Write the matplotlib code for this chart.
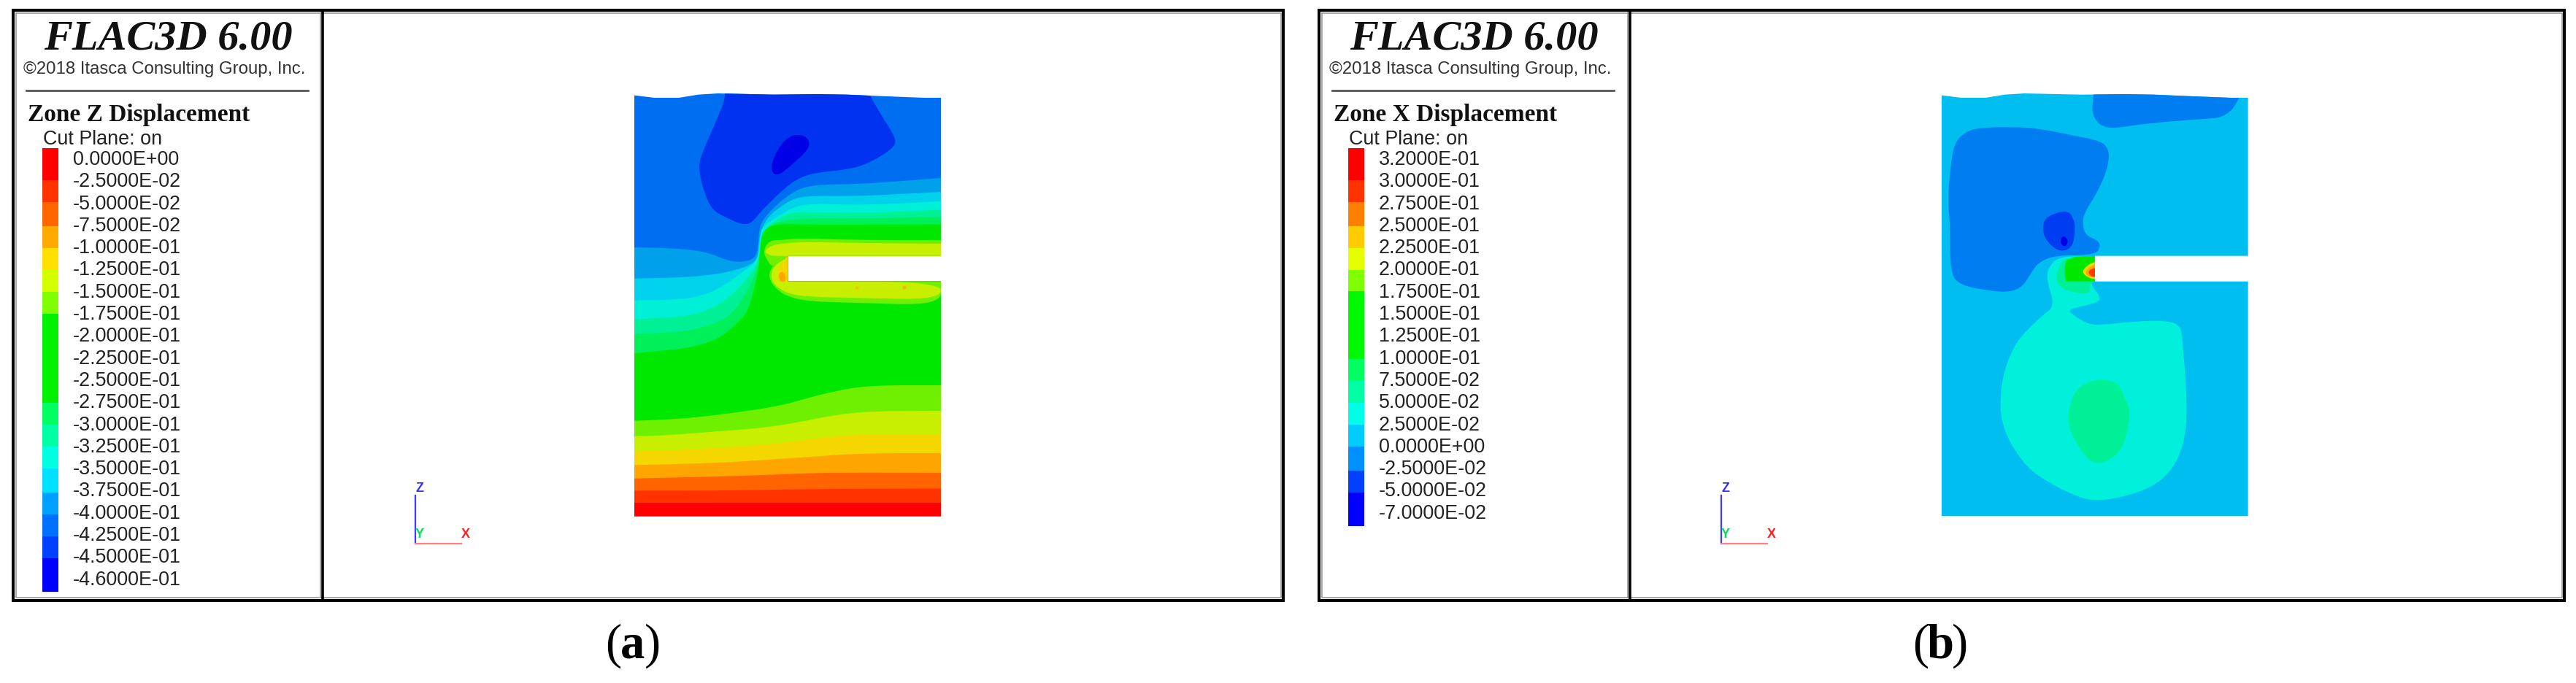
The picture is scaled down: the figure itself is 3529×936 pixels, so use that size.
import numpy as np
import matplotlib
matplotlib.use("Agg")
import matplotlib.pyplot as plt
from matplotlib.path import Path
from matplotlib.patches import PathPatch

# legend labels
labels_a = ["0.0000E+00", "-2.5000E-02", "-5.0000E-02", "-7.5000E-02", "-1.0000E-01", "-1.2500E-01",
            "-1.5000E-01", "-1.7500E-01", "-2.0000E-01", "-2.2500E-01", "-2.5000E-01", "-2.7500E-01",
            "-3.0000E-01", "-3.2500E-01", "-3.5000E-01", "-3.7500E-01", "-4.0000E-01", "-4.2500E-01",
            "-4.5000E-01", "-4.6000E-01"]
labels_b = ["3.2000E-01", "3.0000E-01", "2.7500E-01", "2.5000E-01", "2.2500E-01", "2.0000E-01",
            "1.7500E-01", "1.5000E-01", "1.2500E-01", "1.0000E-01", "7.5000E-02", "5.0000E-02",
            "2.5000E-02", "0.0000E+00", "-2.5000E-02", "-5.0000E-02", "-7.0000E-02"]

# colour bar bands, bottom edge of each band then colour
bar_edges_a = [248, 278, 311, 341, 371, 401, 431, 553, 583, 613, 643, 676, 706, 736, 766, 812]
bar_cols_a = ["#ff0000", "#ff3300", "#ff6600", "#ffaa00", "#ffe000", "#d4ff00", "#7fff00", "#00f000",
              "#00ff60", "#00ffa5", "#00ffe0", "#00e0ff", "#00a0ff", "#0070ff", "#0040ff", "#0000ff"]
bar_edges_b = [248, 278, 311, 341, 371, 400, 493, 523, 553, 583, 613, 646, 676, 722]
bar_cols_b = ["#ff0000", "#ff3300", "#ff8000", "#ffcc00", "#e6ff00", "#80ff00", "#00f800", "#00ff60",
              "#00ffa5", "#00ffe6", "#00ccff", "#0090ff", "#0040ff", "#0000ff"]

# model outline (3x pixels from crop origin)
top_edge = [(170, 75), (270, 75), (350, 62), (430, 57), (660, 62), (840, 60), (960, 62), (1100, 68), (1280, 75)]
BOTTOM = 1795

# zone z contours, painted back to front
z_blob1 = [(450, 30), (1040, 30), (1060, 75), (1110, 160), (1165, 245), (1150, 285), (1040, 350), (950, 372), (850, 380),
           (770, 400), (700, 450), (640, 510), (600, 550), (570, 590), (530, 597), (470, 570), (410, 540), (375, 470),
           (348, 360), (370, 290), (420, 180), (465, 70)]
z_blob2 = [(755, 225), (795, 235), (810, 265), (790, 300), (740, 345), (690, 388), (662, 392), (648, 365), (660, 320),
           (690, 265), (725, 235)]
z_l1 = [(87, 690), (200, 692), (330, 700), (400, 715), (470, 745), (530, 752), (585, 735), (597, 680), (600, 600), (640, 545),
        (700, 490), (770, 445), (850, 432), (1000, 430), (1150, 420), (1347, 405)]
z_l2 = [(87, 818), (250, 815), (400, 805), (500, 785), (570, 760), (596, 735), (600, 640), (630, 570), (690, 520), (750, 485),
        (830, 478), (950, 480), (1100, 475), (1347, 462)]
z_l3 = [(87, 908), (280, 905), (380, 885), (460, 845), (540, 785), (598, 740), (604, 630), (620, 600), (680, 560), (750, 520),
        (830, 510), (950, 515), (1150, 512), (1347, 500)]
z_l4 = [(87, 985), (300, 975), (400, 945), (480, 895), (550, 820), (600, 750), (606, 630), (670, 575), (740, 545), (820, 545),
        (950, 548), (1150, 545), (1347, 535)]
z_l5 = [(87, 1045), (250, 1040), (350, 1025), (450, 990), (490, 960), (540, 890), (590, 790), (604, 700), (608, 640), (640, 600),
        (700, 580), (800, 570), (1000, 572), (1347, 565)]
z_l6 = [(87, 1125), (200, 1115), (300, 1105), (400, 1080), (470, 1040), (520, 990), (550, 960), (575, 880), (598, 780), (604, 700),
        (610, 640), (630, 610), (680, 592), (800, 597), (1000, 597), (1347, 595)]
z_upper1 = [(1347, 660), (1000, 660), (770, 652), (690, 660), (640, 662), (615, 708), (635, 745), (650, 770), (718, 770), (1347, 770)]
z_upper2 = [(1347, 675), (1000, 672), (780, 667), (690, 675), (650, 682), (618, 708), (640, 720), (660, 727), (1347, 727)]
z_lower1 = [(718, 725), (670, 750), (640, 790), (645, 830), (680, 870), (720, 893), (800, 912), (1000, 918), (1347, 928), (1347, 830)]
z_lower2 = [(718, 735), (690, 745), (660, 770), (648, 800), (655, 835), (690, 865), (730, 882), (800, 893), (1000, 898), (1347, 905), (1347, 830), (718, 830)]
z_tip1 = [(718, 725), (700, 745), (680, 775), (675, 810), (680, 830), (718, 830)]
z_tip2 = [(682, 795), (700, 788), (710, 810), (708, 832), (688, 832), (680, 815)]
z_spot1 = [(995, 848), (1010, 848), (1010, 863), (995, 863)]
z_spot2 = [(1189, 848), (1205, 848), (1205, 863), (1189, 863)]
z_b1 = [(87, 1403), (240, 1397), (350, 1388), (500, 1370), (680, 1343), (780, 1315), (900, 1283), (1050, 1257), (1347, 1257)]
z_b2 = [(87, 1467), (220, 1463), (420, 1447), (600, 1434), (760, 1410), (900, 1380), (1060, 1363), (1347, 1362)]
z_b3 = [(87, 1528), (230, 1525), (480, 1512), (700, 1495), (880, 1468), (1060, 1458), (1347, 1458)]
z_b4 = [(87, 1585), (420, 1577), (650, 1562), (800, 1552), (1020, 1536), (1347, 1536)]
z_b5 = [(87, 1640), (400, 1633), (650, 1625), (800, 1618), (1000, 1616), (1347, 1617)]
z_b6 = [(87, 1690), (500, 1690), (800, 1683), (1347, 1682)]
z_b7 = [(87, 1740), (430, 1740), (1347, 1740)]

# zone x contours
x_top = [(720, 30), (1050, 30), (1335, 40), (1310, 80), (1285, 125), (1240, 155), (1200, 160), (1050, 170), (900, 185), (790, 202),
         (740, 188), (712, 150), (708, 100)]
x_big = [(250, 197), (400, 195), (500, 203), (620, 228), (745, 252), (775, 285), (778, 330), (760, 400), (720, 480), (678, 545),
         (668, 590), (680, 640), (735, 662), (742, 692), (715, 722), (560, 722), (490, 750), (460, 790), (425, 850), (370, 875),
         (280, 868), (165, 845), (125, 795), (125, 600), (115, 500), (125, 370), (140, 265), (185, 215)]
x_dark = [(605, 535), (632, 570), (640, 610), (630, 685), (590, 708), (548, 692), (512, 650), (504, 600), (522, 562)]
x_core = [(590, 640), (610, 660), (602, 686), (583, 682), (577, 660)]
x_teal = [(330, 1310), (345, 1200), (390, 1090), (440, 1030), (510, 965), (555, 930), (520, 820), (530, 770), (570, 728), (718, 725),
          (718, 830), (700, 840), (752, 905), (700, 925), (610, 945), (625, 965), (690, 1005), (740, 1010), (870, 995), (1020, 990),
          (1075, 1015), (1080, 1090), (1095, 1250), (1098, 1440), (1062, 1565), (1000, 1645), (900, 1700), (740, 1735), (650, 1718),
          (520, 1652), (438, 1592), (368, 1490), (335, 1400)]
x_mint = [(740, 1230), (805, 1243), (832, 1275), (838, 1305), (860, 1340), (862, 1410), (832, 1522), (775, 1567), (735, 1580),
          (695, 1567), (638, 1490), (610, 1420), (610, 1360), (638, 1278), (680, 1248)]
x_neck = [(718, 830), (695, 845), (700, 882), (640, 878), (578, 857), (558, 820), (570, 770), (600, 728), (718, 728)]
x_green = [(600, 745), (640, 728), (718, 728), (718, 830), (600, 830), (595, 790)]
x_tip1 = [(720, 750), (690, 762), (665, 790), (690, 815), (720, 820)]
x_tip2 = [(720, 760), (690, 775), (680, 795), (695, 812), (720, 814)]
x_tip3 = [(720, 775), (700, 780), (692, 795), (705, 810), (720, 810)]

plt.rcParams["font.family"] = ["Liberation Sans", "DejaVu Sans"]
fig = plt.figure(figsize=(35.29, 9.37), dpi=100)
ax = fig.add_axes([0, 0, 1, 1])
ax.set_xlim(0, 3529)
ax.set_ylim(937, 0)
ax.axis("off")


def mid(p, q):
    return ((p[0] + q[0]) / 2, (p[1] + q[1]) / 2)


def blob_path(pts):
    # closed outline, quadratic curves with the read points as control points
    verts = [mid(pts[-1], pts[0])]
    codes = [Path.MOVETO]
    for i, p in enumerate(pts):
        verts += [p, mid(p, pts[(i + 1) % len(pts)])]
        codes += [Path.CURVE3, Path.CURVE3]
    return verts, codes


def open_path(pts, tail=()):
    # open curve through the read points, closed off by straight lines
    verts = [pts[0], mid(pts[0], pts[1])]
    codes = [Path.MOVETO, Path.LINETO]
    for i in range(1, len(pts) - 1):
        verts += [pts[i], mid(pts[i], pts[i + 1])]
        codes += [Path.CURVE3, Path.CURVE3]
    verts.append(pts[-1])
    codes.append(Path.LINETO)
    for t in tail:
        verts.append(t)
        codes.append(Path.LINETO)
    verts.append(pts[0])
    codes.append(Path.CLOSEPOLY)
    return verts, codes


def draw_model(ox, left, right, slot_x, layers):
    def conv(pts):
        pts = np.array(pts, dtype=float)
        return np.column_stack([ox + pts[:, 0] / 3, 110 + pts[:, 1] / 3])

    outline = [(left, 65)] + top_edge + [(right, 75), (right, 725), (slot_x, 725), (slot_x, 830), (right, 830), (right, BOTTOM), (left, BOTTOM)]
    clip = Path(conv(outline))
    for col, pts, style in layers:
        if style == "blob":
            verts, codes = blob_path(pts)
        elif style == "band":
            verts, codes = open_path(pts, [(pts[-1][0], BOTTOM + 20), (pts[0][0], BOTTOM + 20)])
        elif style == "open":
            verts, codes = open_path(pts)
        else:
            verts, codes = list(pts) + [pts[0]], [Path.MOVETO] + [Path.LINETO] * (len(pts) - 1) + [Path.CLOSEPOLY]
        patch = PathPatch(Path(conv(verts), codes), facecolor=col, edgecolor="none", lw=0)
        ax.add_patch(patch)
        patch.set_clip_path(clip, ax.transData)


def draw_panel(x0, x1, divider, title, labels, edges, cols):
    ax.plot([x0 + 4, x1 - 3, x1 - 3, x0 + 4, x0 + 4], [18.5, 18.5, 820, 820, 18.5], color="#a0a0a0", lw=1.3, zorder=4)
    ax.plot([divider - 3.5, divider - 3.5], [18, 820], color="#a0a0a0", lw=1.3, zorder=4)
    ax.plot([x0, x1, x1, x0, x0], [15, 15, 824, 824, 15], color="black", lw=2.9, solid_joinstyle="miter", zorder=5)
    ax.plot([divider, divider], [15, 824], color="black", lw=2.6, zorder=5)

    d = x0 - 18
    ax.text(60 + d, 68, "FLAC3D 6.00", family="Liberation Serif", style="italic", weight="bold", fontsize=42, va="baseline", color="#111111")
    ax.text(32 + d, 101, "\u00a92018 Itasca Consulting Group, Inc.", fontsize=17.3, va="baseline", color="#333333")
    ax.plot([36 + d, 422 + d], [125, 125], color="#555555", lw=2)
    ax.text(38 + d, 166, title, family="Liberation Serif", weight="bold", fontsize=24, va="baseline", color="#111111")
    ax.text(59 + d, 198, "Cut Plane: on", fontsize=19.4, va="baseline", color="#222222")

    top = 204
    for edge, col in zip(edges, cols):
        ax.fill_between([58 + d, 79.5 + d], top, edge, color=col, lw=0)
        top = edge
    for i, lab in enumerate(labels):
        ax.text(100 + d, 219 + 30.3 * i, lab, fontsize=19.4, va="center", color="#222222")

    # axes triad
    ax.plot([569 + d, 569 + d], [680, 746], color="#3c3cff", lw=1.6)
    ax.plot([569 + d, 632 + d], [746, 746], color="#ff8080", lw=1.6)
    ax.text(575 + d, 670, "Z", color="#3030ff", fontsize=13, weight="bold", ha="center", va="center")
    ax.text(575 + d, 733, "Y", color="#00e050", fontsize=13, weight="bold", ha="center", va="center")
    ax.text(638 + d, 733, "X", color="#ff2020", fontsize=13, weight="bold", ha="center", va="center")


def draw_caption(x, letter):
    y = 885
    kw = dict(family="Liberation Serif", fontsize=48, va="center")
    ax.text(x - 16, y, "(", ha="right", **kw)
    ax.text(x, y, letter, ha="center", weight="bold", **kw)
    ax.text(x + 16, y, ")", ha="left", **kw)


draw_panel(18, 1758, 442, "Zone Z Displacement", labels_a, bar_edges_a, bar_cols_a)
draw_panel(1807, 3513, 2233, "Zone X Displacement", labels_b, bar_edges_b, bar_cols_b)

rect_a = [(87, 0), (1347, 0), (1347, BOTTOM), (87, BOTTOM)]
rect_b = [(90, 0), (1349, 0), (1349, BOTTOM), (90, BOTTOM)]

layers_a = [
    ("#006ef0", rect_a, "poly"), ("#0032f0", z_blob1, "blob"), ("#0000e6", z_blob2, "blob"),
    ("#00a0eb", z_l1, "band"), ("#00d2eb", z_l2, "band"), ("#00f0d7", z_l3, "band"), ("#00f096", z_l4, "band"),
    ("#00f05a", z_l5, "band"), ("#00e800", z_l6, "band"),
    ("#6ef000", z_upper1, "open"), ("#c8ee00", z_upper2, "open"), ("#6ef000", z_lower1, "open"), ("#c8ee00", z_lower2, "open"),
    ("#f5d700", z_tip1, "open"), ("#ffa500", z_tip2, "blob"), ("#e8c800", z_spot1, "blob"), ("#f0b800", z_spot2, "blob"),
    ("#6ef000", z_b1, "band"), ("#c8ee00", z_b2, "band"), ("#f5d700", z_b3, "band"), ("#ffa500", z_b4, "band"),
    ("#ff6400", z_b5, "band"), ("#ff3200", z_b6, "band"), ("#ff0000", z_b7, "band"),
]
layers_b = [
    ("#00bef0", rect_b, "poly"), ("#007df0", x_top, "blob"), ("#007df0", x_big, "blob"), ("#003cf0", x_dark, "blob"), ("#0000e6", x_core, "blob"),
    ("#00f0dc", x_teal, "blob"), ("#00f098", x_mint, "blob"), ("#00f098", x_neck, "open"), ("#00e800", x_green, "poly"),
    ("#f5d700", x_tip1, "open"), ("#ffa500", x_tip2, "open"), ("#ff3c00", x_tip3, "open"),
]
draw_model(840, 87, 1347, 718, layers_a)
draw_model(2630, 90, 1349, 720, layers_b)

draw_caption(867, "a")
draw_caption(2658, "b")

fig.savefig("out.png", dpi=100)
